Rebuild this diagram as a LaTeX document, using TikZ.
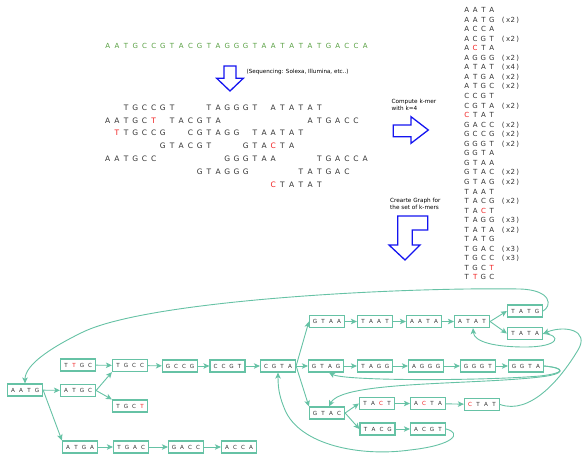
\documentclass[tikz,border=0pt]{standalone}
\usepackage{fontspec}
\setmainfont{DejaVu Sans}
\usetikzlibrary{arrows.meta}
\definecolor{tealc}{RGB}{102,194,165}
\definecolor{gen}{RGB}{88,160,66}
\definecolor{sqredc}{RGB}{240,30,30}
\definecolor{blk}{RGB}{50,50,50}
\definecolor{blu}{RGB}{20,20,240}
\newlength\sqw
\def\R{R}
\def\sqloop#1{%
  \ifx#1\relax \let\sqnext\relax
  \else\ifx#1\R \let\sqnext\sqred
  \else \makebox[\sqw]{#1}\let\sqnext\sqloop
  \fi\fi\sqnext}
\def\sqred#1{\makebox[\sqw]{\textcolor{sqredc}{#1}}\sqloop}
\newcommand\sq[1]{\sqloop#1\relax}
\newcommand\rd[1]{\setlength\sqw{9.2pt}\sq{#1}}
\newcommand\kb[1]{\setlength\sqw{8pt}\sq{#1}}
\newcommand\km[2]{\setlength\sqw{8.3pt}\sq{#1}\hspace{5pt}\setlength\sqw{4.8pt}\sq{#2}}
\begin{document}
\begin{tikzpicture}[x=1pt,y=-1pt,
  kbox/.style={draw=tealc, line width=1.2pt, fill=white, minimum width=35pt, minimum height=12pt, inner sep=0pt, font=\fontsize{5.6}{6}\selectfont, text=blk},
  edge/.style={draw=tealc, line width=0.9pt, -{Stealth[length=6pt,width=5.5pt,inset=1.5pt]}},
  rtxt/.style={anchor=west, inner sep=0pt, text height=5.5pt, text depth=0pt, text=blk, font=\fontsize{7.5}{9}\selectfont},
  gtxt/.style={anchor=west, inner sep=0pt, text height=5.1pt, text depth=0pt, text=gen, font=\fontsize{7}{8}\selectfont},
  ktxt/.style={anchor=west, inner sep=0pt, text height=5.1pt, text depth=0pt, text=blk, font=\fontsize{7}{8}\selectfont},
  note/.style={anchor=west, inner sep=0pt, font=\fontsize{5.7}{6.7}\selectfont, text=black, align=left},
  blockarrow/.style={draw=blu, line width=1.3pt, line join=miter}]
\path[use as bounding box] (0,0) rectangle (585,455);

% genome
\node[gtxt] (genome) at (102.9,45.5) {\rd{AATGCCGTACGTAGGGTAATATATGACCA}};

% sequencing arrow
\draw[blockarrow] (224,66) -- (236,66) -- (236,78.3) -- (243.3,78.3) -- (230,91) -- (216.7,78.3) -- (224,78.3) -- cycle;
\node[note, font=\fontsize{5.6}{6.4}\selectfont] (seqnote) at (246.5,72.3) {(Sequencing: Solexa, Illumina, etc..)};

% reads (x = 102.9 + 9.2*i)
\node[rtxt] (r0a) at (121.3,107.5) {\rd{TGCCGT}};
\node[rtxt] (r0b) at (204.1,107.5) {\rd{TAGGGT}};
\node[rtxt] (r0c) at (268.5,107.5) {\rd{ATATAT}};
\node[rtxt] (r1a) at (102.9,120.3) {\rd{AATGC\R T}};
\node[rtxt] (r1b) at (167.3,120.3) {\rd{TACGTA}};
\node[rtxt] (r1c) at (305.3,120.3) {\rd{ATGACC}};
\node[rtxt] (r2a) at (112.1,133.1) {\rd{\R TTGCCG}};
\node[rtxt] (r2b) at (185.7,133.1) {\rd{CGTAGG}};
\node[rtxt] (r2c) at (250.1,133.1) {\rd{TAATAT}};
\node[rtxt] (r3a) at (158.1,145.9) {\rd{GTACGT}};
\node[rtxt] (r3b) at (240.9,145.9) {\rd{GTA\R CTA}};
\node[rtxt] (r4a) at (102.9,158.7) {\rd{AATGCC}};
\node[rtxt] (r4b) at (222.5,158.7) {\rd{GGGTAA}};
\node[rtxt] (r4c) at (314.5,158.7) {\rd{TGACCA}};
\node[rtxt] (r5a) at (194.9,171.5) {\rd{GTAGGG}};
\node[rtxt] (r5b) at (296.1,171.5) {\rd{TATGAC}};
\node[rtxt] (r6a) at (268.5,184.3) {\rd{\R CTATAT}};

% k-mer arrow
\node[note] (kmernote) at (391.5,104.5) {Compute k-mer\\with k=4};
\draw[blockarrow] (393.3,125) -- (411,125) -- (411,116.7) -- (428.3,130) -- (411,143.3) -- (411,136.7) -- (393.3,136.7) -- cycle;

% graph arrow
\node[note] (graphnote) at (390,203.8) {Crearte Graph for\\the set of k-mers};
\draw[blockarrow] (397.7,216) -- (427.7,216) -- (427.7,230) -- (412.3,230) -- (412.3,245) -- (420,245) -- (405,260) -- (389,245) -- (397.7,245) -- cycle;

% k-mer list
\node[ktxt] (k0) at (462.5,10.0) {\km{AATA}{}};
\node[ktxt] (k1) at (462.5,19.55) {\km{AATG}{(x2)}};
\node[ktxt] (k2) at (462.5,29.1) {\km{ACCA}{}};
\node[ktxt] (k3) at (462.5,38.65) {\km{ACGT}{(x2)}};
\node[ktxt] (k4) at (462.5,48.2) {\km{A\R CTA}{}};
\node[ktxt] (k5) at (462.5,57.75) {\km{AGGG}{(x2)}};
\node[ktxt] (k6) at (462.5,67.3) {\km{ATAT}{(x4)}};
\node[ktxt] (k7) at (462.5,76.85) {\km{ATGA}{(x2)}};
\node[ktxt] (k8) at (462.5,86.4) {\km{ATGC}{(x2)}};
\node[ktxt] (k9) at (462.5,95.95) {\km{CCGT}{}};
\node[ktxt] (k10) at (462.5,105.5) {\km{CGTA}{(x2)}};
\node[ktxt] (k11) at (462.5,115.05) {\km{\R CTAT}{}};
\node[ktxt] (k12) at (462.5,124.6) {\km{GACC}{(x2)}};
\node[ktxt] (k13) at (462.5,134.15) {\km{GCCG}{(x2)}};
\node[ktxt] (k14) at (462.5,143.7) {\km{GGGT}{(x2)}};
\node[ktxt] (k15) at (462.5,153.25) {\km{GGTA}{}};
\node[ktxt] (k16) at (462.5,162.8) {\km{GTAA}{}};
\node[ktxt] (k17) at (462.5,172.35) {\km{GTAC}{(x2)}};
\node[ktxt] (k18) at (462.5,181.9) {\km{GTAG}{(x2)}};
\node[ktxt] (k19) at (462.5,191.45) {\km{TAAT}{}};
\node[ktxt] (k20) at (462.5,201.0) {\km{TACG}{(x2)}};
\node[ktxt] (k21) at (462.5,210.55) {\km{TA\R CT}{}};
\node[ktxt] (k22) at (462.5,220.1) {\km{TAGG}{(x3)}};
\node[ktxt] (k23) at (462.5,229.65) {\km{TATA}{(x2)}};
\node[ktxt] (k24) at (462.5,239.2) {\km{TATG}{}};
\node[ktxt] (k25) at (462.5,248.75) {\km{TGAC}{(x3)}};
\node[ktxt] (k26) at (462.5,258.3) {\km{TGCC}{(x3)}};
\node[ktxt] (k27) at (462.5,267.85) {\km{TGC\R T}{}};
\node[ktxt] (k28) at (462.5,277.4) {\km{T\R TGC}{}};

% graph nodes
\node[kbox] (AATG) at (25,390) {\kb{AATG}};
\node[kbox] (ATGC) at (78,390.5) {\kb{ATGC}};
\node[kbox] (TTGC) at (78,365) {\kb{T\R TGC}};
\node[kbox] (TGCC) at (130,365.5) {\kb{TGCC}};
\node[kbox] (TGCT) at (130,406) {\kb{TGC\R T}};
\node[kbox] (ATGA) at (80,447) {\kb{ATGA}};
\node[kbox] (TGAC) at (131,447) {\kb{TGAC}};
\node[kbox] (GACC) at (186,447) {\kb{GACC}};
\node[kbox] (ACCA) at (239,447) {\kb{ACCA}};
\node[kbox] (GCCG) at (180,366) {\kb{GCCG}};
\node[kbox] (CCGT) at (227.5,366) {\kb{CCGT}};
\node[kbox] (CGTA) at (278,366) {\kb{CGTA}};
\node[kbox] (GTAA) at (327,321.5) {\kb{GTAA}};
\node[kbox] (TAAT) at (375,321.5) {\kb{TAAT}};
\node[kbox] (AATA) at (424,321.5) {\kb{AATA}};
\node[kbox] (ATAT) at (472,321.5) {\kb{ATAT}};
\node[kbox] (TATG) at (525,311) {\kb{TATG}};
\node[kbox] (TATA) at (525,333.5) {\kb{TATA}};
\node[kbox] (GTAG) at (326,366) {\kb{GTAG}};
\node[kbox] (TAGG) at (375,366) {\kb{TAGG}};
\node[kbox] (AGGG) at (426,366) {\kb{AGGG}};
\node[kbox] (GGGT) at (478,366) {\kb{GGGT}};
\node[kbox] (GGTA) at (526,366) {\kb{GGTA}};
\node[kbox] (GTAC) at (327,413) {\kb{GTAC}};
\node[kbox] (TACT) at (377,403.5) {\kb{TA\R CT}};
\node[kbox] (ACTA) at (428,403.5) {\kb{A\R CTA}};
\node[kbox] (CTAT) at (482,404.5) {\kb{\R CTAT}};
\node[kbox] (TACG) at (377.5,429) {\kb{TACG}};
\node[kbox] (ACGT) at (428,429) {\kb{ACGT}};

% straight edges
\draw[edge] (AATG) -- (ATGC);
\draw[edge] (AATG.east) -- (ATGA.north west);
\draw[edge] (ATGC.east) -- (TGCC.south west);
\draw[edge] (ATGC.east) -- (TGCT.north west);
\draw[edge] (TTGC) -- (TGCC);
\draw[edge] (TGCC) -- (GCCG);
\draw[edge] (GCCG) -- (CCGT);
\draw[edge] (CCGT) -- (CGTA);
\draw[edge] (ATGA) -- (TGAC);
\draw[edge] (TGAC) -- (GACC);
\draw[edge] (GACC) -- (ACCA);
\draw[edge] (CGTA.east) -- (GTAA.west);
\draw[edge] (CGTA) -- (GTAG);
\draw[edge] (CGTA.east) -- (GTAC.north west);
\draw[edge] (GTAA) -- (TAAT);
\draw[edge] (TAAT) -- (AATA);
\draw[edge] (AATA) -- (ATAT);
\draw[edge] (ATAT.east) -- (TATG.west);
\draw[edge] (ATAT.east) -- (TATA.west);
\draw[edge] (GTAG) -- (TAGG);
\draw[edge] (TAGG) -- (AGGG);
\draw[edge] (AGGG) -- (GGGT);
\draw[edge] (GGGT) -- (GGTA);
\draw[edge] (GTAC.east) -- (TACT.west);
\draw[edge] (GTAC.east) -- (TACG.west);
\draw[edge] (TACT) -- (ACTA);
\draw[edge] (ACTA) -- (CTAT);
\draw[edge] (TACG) -- (ACGT);

% curved edges
\draw[edge] (TATG.east) .. controls (552,306) and (552,290) .. (520,289)
  .. controls (400,287) and (150,300) .. (83,332)
  .. controls (50,348) and (25,365) .. (AATG.north);
\draw[edge] (TATA.east) .. controls (562,335) and (560,347) .. (525,347)
  .. controls (495,347) and (474,342) .. ([xshift=1pt]ATAT.south);
\draw[edge] (GGTA.east) .. controls (566,368) and (566,373) .. (540,376)
  .. controls (480,381) and (345,381) .. ([xshift=3pt]GTAG.south);
\draw[edge] (GGTA.east) .. controls (566,368) and (566,374) .. (540,377)
  .. controls (470,385) and (342,381) .. ([xshift=2pt]GTAC.north);
\draw[edge] (CTAT.east) .. controls (530,415) and (560,380) .. (578,350)
  .. controls (590,330) and (565,325) .. (TATA.east);
\draw[edge] (ACGT.east) .. controls (462,433) and (455,445) .. (410,450)
  .. controls (360,457) and (300,445) .. (285,410)
  .. controls (280,398) and (278,390) .. (CGTA.south);
\end{tikzpicture}
\end{document}
